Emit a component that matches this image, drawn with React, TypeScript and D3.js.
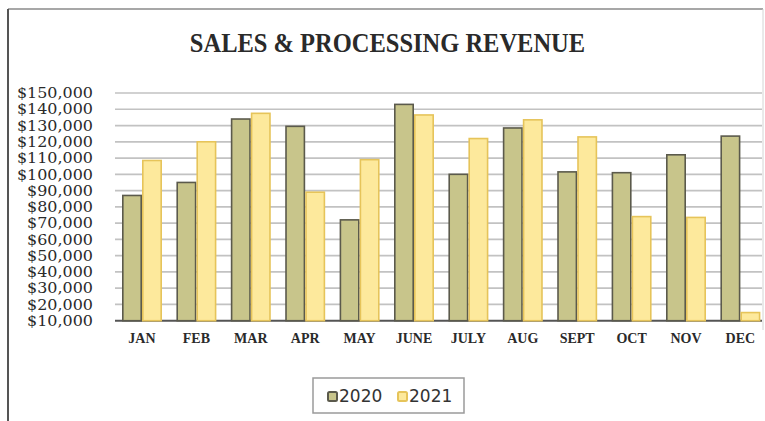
import React from "react";
import * as d3 from "d3";

const months = ["JAN", "FEB", "MAR", "APR", "MAY", "JUNE", "JULY", "AUG", "SEPT", "OCT", "NOV", "DEC"];
const series = ["2020", "2021"];
const values2020 = [87000, 95000, 134000, 129500, 72000, 143000, 100000, 128500, 101500, 101000, 112000, 123500];
const values2021 = [108500, 120000, 137500, 89000, 109000, 136500, 122000, 133500, 123000, 74000, 73500, 15000];
const yTicks = [150000, 140000, 130000, 120000, 110000, 100000, 90000, 80000, 70000, 60000, 50000, 40000, 30000, 20000, 10000];

const W = 765;
const H = 421;
const fills: Record<string, string> = { "2020": "#c8c58b", "2021": "#fde99c" };
const strokes: Record<string, string> = { "2020": "#5b5a4c", "2021": "#e6c45a" };

export default function App() {
  const x0 = d3.scaleBand<string>().domain(months).range([114.8, 767.6]).paddingInner(0.265).paddingOuter(0.1325);
  const x1 = d3.scaleBand<string>().domain(series).range([0, x0.bandwidth()]);
  const y = d3.scaleLinear().domain([10000, 150000]).range([320.7, 93]);
  const fmt = (v: number) => "$" + d3.format(",")(v);
  const data: Record<string, number[]> = { "2020": values2020, "2021": values2021 };

  return (
    <svg width={W} height={H} style={{ position: "absolute", left: 0, top: 0, background: "#fff" }}>
      <rect x={0} y={0} width={W} height={H} fill="#fff" />
      {/* border */}
      <line x1={8} x2={763} y1={9} y2={9} stroke="#8a8a8a" strokeWidth={1.5} />
      <line x1={8} x2={8} y1={9} y2={421} stroke="#555" strokeWidth={2} />
      <line x1={763} x2={763} y1={9} y2={330} stroke="#d4d4d4" strokeWidth={1} />
      <text x={387.5} y={52} textAnchor="middle" fontFamily="Liberation Serif" fontWeight="bold" fontSize={25} fill="#2a2a2a" transform="translate(387.5,52) scale(0.98,1.08) translate(-387.5,-52)">
        SALES &amp; PROCESSING REVENUE
      </text>
      {/* gridlines */}
      {yTicks.map((t) => (
        <line key={"g" + t} x1={115} x2={762} y1={y(t)} y2={y(t)} stroke={t === 10000 ? "#555" : "#c2c2c2"} strokeWidth={t === 10000 ? 2 : 1.7} />
      ))}
      {yTicks.map((t) => (
        <g key={"t" + t} transform={`translate(93,${y(t)}) scale(1.1,1)`}>
          <text x={0} y={0} dy="0.36em" textAnchor="end" fontFamily="DejaVu Serif" fontSize={14.5} fill="#2a2a2a">
            {fmt(t)}
          </text>
        </g>
      ))}
      {/* bars */}
      {months.map((m, i) => (
        <g key={m} transform={`translate(${x0(m)},0)`}>
          {series.map((s) => {
            const v = data[s][i];
            return (
              <rect
                key={s}
                x={(x1(s) as number) + 0.8}
                y={y(v)}
                width={x1.bandwidth() - 1.6}
                height={y(10000) - y(v)}
                fill={fills[s]}
                stroke={strokes[s]}
                strokeWidth={1.6}
              />
            );
          })}
          <text x={x0.bandwidth() / 2} y={343} textAnchor="middle" fontFamily="Liberation Serif" fontWeight="bold" fontSize={14} fill="#2a2a2a">
            {m}
          </text>
        </g>
      ))}
      {/* legend */}
      <rect x={313} y={378} width={151} height={35} fill="#fff" stroke="#9a9a9a" strokeWidth={1.5} />
      {series.map((s, i) => (
        <g key={"l" + s} transform={`translate(${328 + i * 70},0)`}>
          <rect x={0} y={392} width={9} height={9} rx={1.5} fill={fills[s]} stroke={strokes[s]} strokeWidth={2} />
          <text x={11} y={402} fontFamily="DejaVu Sans" fontSize={17} fill="#333">
            {s}
          </text>
        </g>
      ))}
    </svg>
  );
}
